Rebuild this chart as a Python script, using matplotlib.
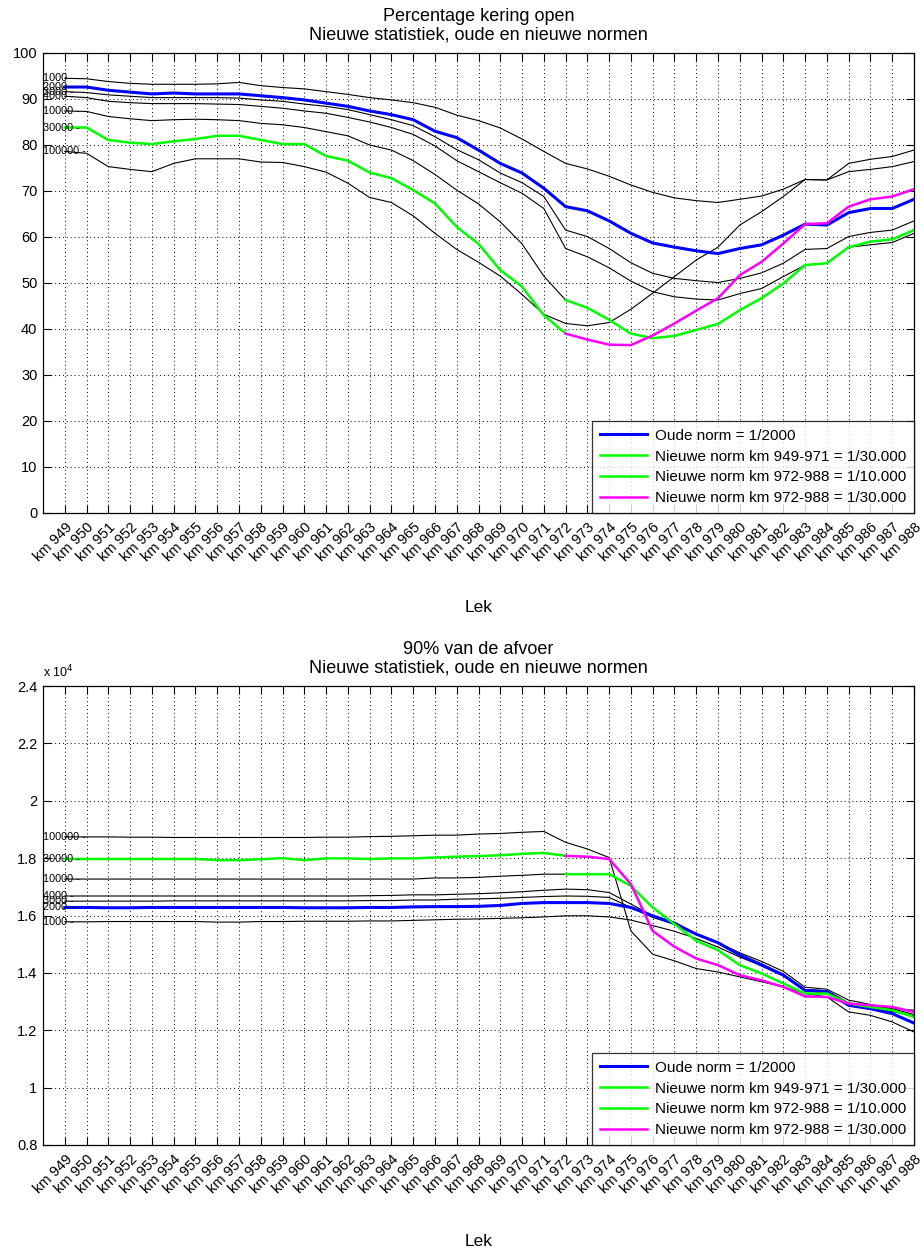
import numpy as np
import matplotlib
matplotlib.use("Agg")
import matplotlib.pyplot as plt
from matplotlib.ticker import FuncFormatter

plt.rcParams['font.family'] = ['Liberation Sans', 'DejaVu Sans']

# km posities langs de Lek
km = list(range(949, 989))
km_labels = [f"km {k}" for k in km]
return_periods = [1000, 2000, 3000, 4000, 10000, 30000, 100000]

# Percentage kering open (per terugkeertijd)
open_1000 = [94.5, 94.4, 93.8, 93.4, 93.2, 93.2, 93.2, 93.3, 93.6, 92.9,
             92.5, 92.2, 91.6, 91.0, 90.3, 89.8, 89.2, 88.2, 86.5, 85.3,
             83.7, 81.3, 78.6, 76.0, 74.8, 73.2, 71.3, 69.7, 68.5, 67.9,
             67.5, 68.2, 68.9, 70.4, 72.5, 72.4, 74.2, 74.7, 75.3, 76.4]
open_2000 = [92.6, 92.6, 91.9, 91.5, 91.1, 91.3, 91.1, 91.1, 91.1, 90.7,
             90.3, 89.8, 89.1, 88.4, 87.4, 86.6, 85.5, 83.0, 81.6, 78.9,
             76.0, 73.9, 70.6, 66.6, 65.7, 63.5, 60.8, 58.7, 57.8, 57.0,
             56.4, 57.5, 58.3, 60.4, 62.8, 62.6, 65.3, 66.2, 66.2, 68.2]
open_3000 = [91.6, 91.4, 90.9, 90.6, 90.3, 90.3, 90.3, 90.3, 90.2, 89.8,
             89.5, 88.9, 88.4, 87.7, 86.6, 85.5, 84.2, 81.8, 79.0, 76.8,
             73.9, 71.8, 68.8, 61.5, 60.1, 57.5, 54.4, 52.1, 51.0, 50.5,
             50.1, 51.0, 52.2, 54.3, 57.3, 57.5, 60.1, 61.0, 61.5, 63.5]
open_4000 = [90.6, 90.3, 89.5, 89.2, 89.0, 89.0, 89.0, 88.9, 88.8, 88.4,
             88.0, 87.4, 86.9, 86.0, 85.0, 83.8, 82.3, 79.8, 76.6, 74.2,
             71.8, 69.5, 66.2, 57.5, 55.7, 53.3, 50.4, 48.1, 47.0, 46.5,
             46.3, 47.7, 48.8, 51.4, 53.9, 54.3, 57.8, 58.3, 58.8, 60.8]
open_10000 = [87.4, 87.3, 86.2, 85.7, 85.3, 85.5, 85.6, 85.5, 85.3, 84.7,
              84.4, 83.8, 82.9, 82.0, 80.0, 78.9, 76.6, 73.6, 70.2, 67.2,
              63.3, 58.5, 51.5, 46.3, 44.6, 42.0, 39.0, 38.0, 38.5, 39.8,
              41.1, 44.1, 46.7, 49.9, 53.9, 54.3, 57.8, 59.0, 59.5, 61.5]
open_30000 = [83.8, 83.8, 81.1, 80.5, 80.2, 80.8, 81.3, 82.0, 82.0, 81.1,
              80.2, 80.2, 77.6, 76.6, 74.0, 72.8, 70.2, 67.3, 62.2, 58.5,
              52.8, 49.2, 43.0, 39.0, 37.7, 36.6, 36.5, 38.6, 41.2, 44.0,
              46.7, 51.7, 54.6, 58.6, 62.8, 63.0, 66.6, 68.2, 68.8, 70.4]
open_100000 = [78.6, 78.2, 75.3, 74.7, 74.2, 76.0, 77.0, 77.0, 77.0, 76.3,
               76.2, 75.3, 74.1, 71.7, 68.6, 67.5, 64.6, 60.8, 57.3, 54.5,
               51.5, 47.5, 43.2, 41.2, 40.7, 41.4, 44.3, 47.8, 51.4, 55.0,
               57.8, 62.6, 65.5, 68.8, 72.5, 72.4, 76.0, 76.9, 77.5, 78.9]

# 90% van de afvoer (m3/s)
q_1000 = [15780, 15780, 15790, 15790, 15790, 15790, 15790, 15770, 15770, 15790,
          15790, 15800, 15800, 15800, 15810, 15810, 15830, 15850, 15870, 15880,
          15900, 15920, 15950, 15990, 15990, 15950, 15840, 15650, 15450, 15200,
          14900, 14550, 14250, 13900, 13380, 13300, 12900, 12780, 12650, 12500]
q_2000 = [16280, 16280, 16270, 16270, 16280, 16280, 16280, 16280, 16280, 16280,
          16280, 16270, 16270, 16270, 16280, 16280, 16300, 16310, 16310, 16320,
          16350, 16420, 16450, 16450, 16450, 16420, 16280, 15990, 15720, 15350,
          15050, 14620, 14270, 13920, 13390, 13340, 12870, 12750, 12580, 12250]
q_3000 = [16500, 16500, 16500, 16500, 16500, 16510, 16510, 16510, 16510, 16510,
          16510, 16510, 16510, 16510, 16520, 16520, 16540, 16540, 16570, 16580,
          16600, 16630, 16660, 16680, 16670, 16630, 16280, 15930, 15700, 15350,
          15050, 14700, 14400, 14050, 13500, 13430, 13050, 12900, 12750, 12550]
q_4000 = [16680, 16680, 16680, 16680, 16680, 16680, 16680, 16680, 16680, 16680,
          16680, 16680, 16680, 16680, 16690, 16700, 16720, 16720, 16740, 16760,
          16790, 16830, 16880, 16920, 16900, 16800, 16400, 15990, 15770, 15350,
          15050, 14650, 14320, 13950, 13420, 13380, 12950, 12850, 12750, 12700]
q_10000 = [17270, 17270, 17270, 17270, 17270, 17270, 17270, 17270, 17270, 17270,
           17270, 17270, 17270, 17270, 17270, 17270, 17270, 17310, 17310, 17330,
           17370, 17400, 17440, 17440, 17440, 17440, 17030, 16280, 15700, 15120,
           14790, 14270, 13980, 13630, 13280, 13280, 12930, 12810, 12700, 12460]
q_30000 = [17970, 17970, 17970, 17970, 17970, 17970, 17970, 17930, 17930, 17960,
           18000, 17930, 17990, 17990, 17970, 17990, 17990, 18020, 18050, 18070,
           18100, 18150, 18180, 18080, 18050, 17970, 17090, 15460, 14910, 14500,
           14270, 13920, 13740, 13510, 13180, 13160, 12930, 12870, 12810, 12640]
q_100000 = [18740, 18740, 18740, 18730, 18730, 18720, 18720, 18720, 18720, 18720,
            18720, 18720, 18730, 18730, 18750, 18760, 18780, 18800, 18800, 18840,
            18860, 18900, 18930, 18550, 18320, 18020, 15460, 14650, 14420, 14150,
            14030, 13860, 13690, 13510, 13280, 13160, 12640, 12520, 12290, 11940]

legend_labels = ["Oude norm = 1/2000",
                 "Nieuwe norm km 949-971 = 1/30.000",
                 "Nieuwe norm km 972-988 = 1/10.000",
                 "Nieuwe norm km 972-988 = 1/30.000"]

x = np.arange(1, len(km) + 1)
split = 24  # km 949-972 / km 972-988

fig = plt.figure(figsize=(9.21, 12.49), dpi=100)
W, H = 921, 1249


def draw(ax, series, title, ylim, yticks):
    for s in series:
        ax.plot(x, s, color='k', lw=0.8)
    for rp, s in zip(return_periods, series):
        ax.text(0, s[0], f"{rp} -", fontsize=7.8, va='center', ha='left')
    blue, green1 = series[1], series[5]
    green2, magenta = series[4], series[5]
    ax.plot(x, blue, color='#0000ff', lw=2.2, label=legend_labels[0])
    ax.plot(x[:split], green1[:split], color='#00ff00', lw=1.8, label=legend_labels[1])
    ax.plot(x[split - 1:], green2[split - 1:], color='#00ff00', lw=1.8, label=legend_labels[2])
    ax.plot(x[split - 1:], magenta[split - 1:], color='#ff00ff', lw=1.8, label=legend_labels[3])

    ax.set_xlim(0, len(km))
    ax.set_ylim(*ylim)
    ax.set_xticks(x)
    ax.set_xticklabels(km_labels, rotation=45, ha='right', va='top',
                       rotation_mode='anchor', fontsize=8)
    ax.set_yticks(yticks)
    ax.tick_params(direction='in', top=True, right=True, length=6,
                   width=0.8, labelsize=10.5, pad=4)
    ax.tick_params(axis='x', pad=5)
    ax.grid(True, color='k', lw=0.7, linestyle=(0, (1, 3)))
    for sp in ax.spines.values():
        sp.set_linewidth(0.9)
    ax.set_title(title, fontsize=13, linespacing=1.1, pad=10)
    leg = ax.legend(loc='lower right', fontsize=11, frameon=True, fancybox=False,
                    edgecolor='k', borderaxespad=0, handlelength=3.1,
                    labelspacing=0.45, borderpad=0.5, handletextpad=0.5)
    leg.get_frame().set_linewidth(0.9)


ax1 = fig.add_axes([43 / W, 1 - 513 / H, 871 / W, 460 / H])
draw(ax1, [open_1000, open_2000, open_3000, open_4000, open_10000, open_30000, open_100000],
     "Percentage kering open\nNieuwe statistiek, oude en nieuwe normen",
     (0, 100), range(0, 101, 10))
fig.text((43 + 435.5) / W, 1 - 608 / H, "Lek", ha='center', va='center', fontsize=12.5)

ax2 = fig.add_axes([43 / W, 1 - 1145 / H, 871 / W, 459 / H])
draw(ax2, [q_1000, q_2000, q_3000, q_4000, q_10000, q_30000, q_100000],
     "90% van de afvoer\nNieuwe statistiek, oude en nieuwe normen",
     (8000, 24000), np.arange(8000, 24001, 2000))
ax2.yaxis.set_major_formatter(FuncFormatter(lambda v, p: f"{v / 1e4:g}"))
ax2.text(0.0, 1.012, r"x 10$^4$", transform=ax2.transAxes, fontsize=9,
         ha='left', va='bottom')
fig.text((43 + 435.5) / W, 1 - 1242 / H, "Lek", ha='center', va='center', fontsize=12.5)

fig.savefig("out.png", dpi=100)
